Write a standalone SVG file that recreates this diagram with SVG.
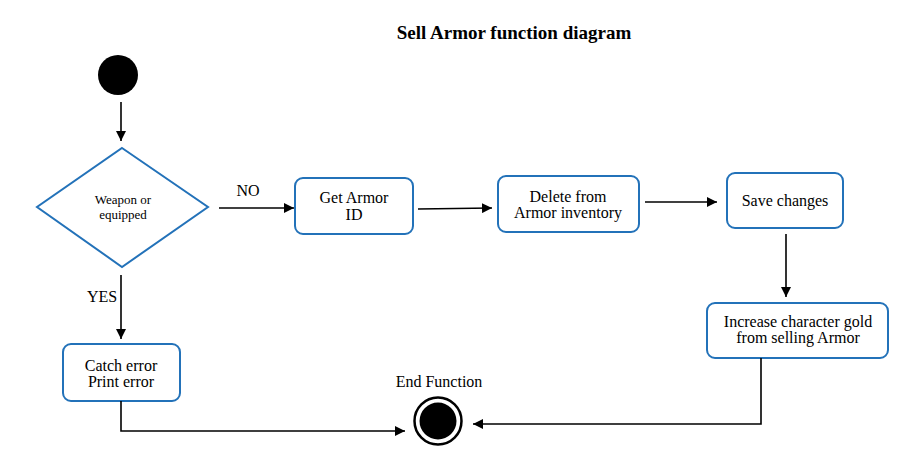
<svg xmlns="http://www.w3.org/2000/svg" width="905" height="465" viewBox="0 0 905 465">
<defs>
<marker id="ah" viewBox="0 0 10 10" refX="10" refY="5" markerWidth="10" markerHeight="10" markerUnits="userSpaceOnUse" orient="auto">
<path d="M0,0 L10,5 L0,10 z" fill="#000"/>
</marker>
<style>
.box{fill:#fff;stroke:#2372b9;stroke-width:2}
.t{font-size:16px;fill:#000;text-anchor:middle}
.s{font-size:13px}
.c{fill:none;stroke:#000;stroke-width:1.6}
</style>
</defs>
<rect width="905" height="465" fill="#fff"/>
<g font-family="Liberation Serif, DejaVu Serif, serif">
<text x="514" y="39" class="t" style="font-size:19px;font-weight:bold">Sell Armor function diagram</text>
<g id="start"><circle cx="118" cy="75" r="20" fill="#000"/></g>
<g id="decision">
<polygon points="122,148 208,207 122,267 37,207" class="box"/>
<text x="123" y="204" class="t s">Weapon or</text>
<text x="123" y="219" class="t s">equipped</text>
</g>
<g id="getid">
<rect x="295" y="178" width="118" height="56" rx="8" class="box"/>
<text x="354" y="203" class="t">Get Armor</text>
<text x="354" y="220" class="t">ID</text>
</g>
<g id="delete">
<rect x="498" y="176" width="141" height="56" rx="8" class="box"/>
<text x="568" y="202" class="t">Delete from</text>
<text x="568" y="218" class="t">Armor inventory</text>
</g>
<g id="save">
<rect x="727" y="173" width="116" height="55" rx="8" class="box"/>
<text x="785" y="206" class="t">Save changes</text>
</g>
<g id="increase">
<rect x="707" y="303" width="181" height="55" rx="8" class="box"/>
<text x="798" y="327" class="t">Increase character gold</text>
<text x="798" y="343" class="t">from selling Armor</text>
</g>
<g id="catch">
<rect x="63" y="344" width="117" height="57" rx="8" class="box"/>
<text x="121" y="371" class="t">Catch error</text>
<text x="121" y="387" class="t">Print error</text>
</g>
<g id="end">
<text x="439" y="387" class="t">End Function</text>
<circle cx="438" cy="421" r="23.5" fill="#fff" stroke="#000" stroke-width="2.5"/>
<circle cx="438" cy="421" r="18.5" fill="#000"/>
</g>
<g id="connectors">
<line x1="121" y1="102" x2="121" y2="141" class="c" marker-end="url(#ah)"/>
<line x1="219" y1="208" x2="294" y2="208" class="c" marker-end="url(#ah)"/>
<text x="248" y="196" class="t">NO</text>
<line x1="418" y1="209" x2="492" y2="208" class="c" marker-end="url(#ah)"/>
<line x1="645" y1="202" x2="717" y2="202" class="c" marker-end="url(#ah)"/>
<line x1="786" y1="234" x2="786" y2="297" class="c" marker-end="url(#ah)"/>
<line x1="121" y1="275" x2="121" y2="339" class="c" marker-end="url(#ah)"/>
<text x="102" y="302" class="t">YES</text>
<polyline points="121,401 121,431 405,431" class="c" marker-end="url(#ah)"/>
<polyline points="761,358 761,424 473,424" class="c" marker-end="url(#ah)"/>
</g>
</g>
</svg>
